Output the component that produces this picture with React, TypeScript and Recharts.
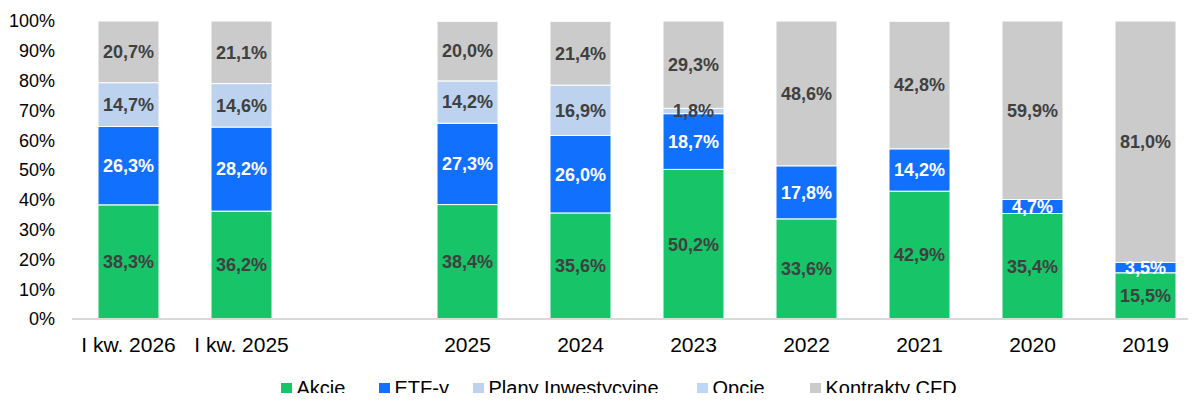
import React from "react";
import { BarChart, Bar, XAxis, YAxis, Legend, LabelList } from "recharts";

// Kategorie osi X (pusta kategoria to przerwa między kwartałami a latami)
const categories = ["I kw. 2026", "I kw. 2025", "", "2025", "2024", "2023", "2022", "2021", "2020", "2019"];

// Udziały w procentach
const akcje = [38.3, 36.2, null, 38.4, 35.6, 50.2, 33.6, 42.9, 35.4, 15.5];
const etfy = [26.3, 28.2, null, 27.3, 26.0, 18.7, 17.8, 14.2, 4.7, 3.5];
const plany = [14.7, 14.6, null, 14.2, 16.9, 1.8, 0, 0, 0, 0];
const opcje = [0, 0, null, 0, 0, 0, 0, 0, 0, 0];
const cfd = [20.7, 21.1, null, 20.0, 21.4, 29.3, 48.6, 42.8, 59.9, 81.0];

const yTicks = [0, 10, 20, 30, 40, 50, 60, 70, 80, 90, 100];

const series = [
  { key: "akcje", name: "Akcje", color: "#17C467", label: "#404040" },
  { key: "etfy", name: "ETF-y", color: "#1270FF", label: "#FFFFFF" },
  { key: "plany", name: "Plany Inwestycyjne", color: "#BCD2EE", label: "#404040" },
  { key: "opcje", name: "Opcje", color: "#BDD7F8", label: "#404040" },
  { key: "cfd", name: "Kontrakty CFD", color: "#CBCBCB", label: "#404040" },
];

// ancho de cada hueco de la leyenda (px), como en el original
const legendSlots = [98, 94, 224, 113, 150];

const data = categories.map((cat, i) => ({
  cat,
  akcje: akcje[i],
  etfy: etfy[i],
  plany: plany[i],
  opcje: opcje[i],
  cfd: cfd[i],
}));

const fmt = (v: any) => (typeof v === "number" && v > 0 ? v.toFixed(1).replace(".", ",") + "%" : "");

// Leyenda en el orden de las series
const LegendContent = ({ payload }: { payload?: { value: string; color: string }[] }) => {
  const items = series.map((s) => (payload || []).find((p) => p.value === s.name)).filter(Boolean) as {
    value: string;
    color: string;
  }[];
  return (
    <div style={{ display: "flex", alignItems: "center", whiteSpace: "nowrap", fontSize: 20, lineHeight: "23px", color: "#000" }}>
      {items.map((p, i) => (
        <span key={p.value} style={{ display: "inline-flex", alignItems: "center", width: legendSlots[i] }}>
          <span style={{ display: "inline-block", width: 10.5, height: 10.5, background: p.color, marginRight: 5 }} />
          {p.value}
        </span>
      ))}
    </div>
  );
};

export default function App() {
  return (
    <div
      style={{
        width: 1188,
        height: 393,
        marginBottom: -8,
        overflow: "hidden",
        fontFamily: "'Liberation Sans', Arial, sans-serif",
      }}
    >
      <BarChart width={1194} height={400} data={data} margin={{ top: 13, right: 0, bottom: 59, left: 8 }} barSize={61}>
        <XAxis
          dataKey="cat"
          interval={0}
          tickLine={false}
          tickSize={0}
          tickMargin={18}
          axisLine={{ stroke: "#D9D9D9", strokeWidth: 2 }}
          tick={{ fill: "#000", fontSize: 21 }}
        />
        <YAxis
          width={56}
          domain={[0, 100]}
          ticks={yTicks}
          allowDataOverflow
          tickFormatter={(v) => `${v}%`}
          axisLine={false}
          tickLine={false}
          tickSize={0}
          tickMargin={17}
          tick={{ fill: "#000", fontSize: 18 }}
        />
        <Legend
          verticalAlign="middle"
          align="center"
          content={<LegendContent />}
          wrapperStyle={{ left: 273, top: 369, width: "auto" }}
        />
        {series.map((s) => (
          <Bar key={s.key} dataKey={s.key} name={s.name} stackId="a" fill={s.color} stroke="#FFFFFF" strokeWidth={1} isAnimationActive={false}>
            <LabelList dataKey={s.key} position="center" formatter={fmt} fill={s.label} fontSize={18} fontWeight={700} />
          </Bar>
        ))}
      </BarChart>
    </div>
  );
}
